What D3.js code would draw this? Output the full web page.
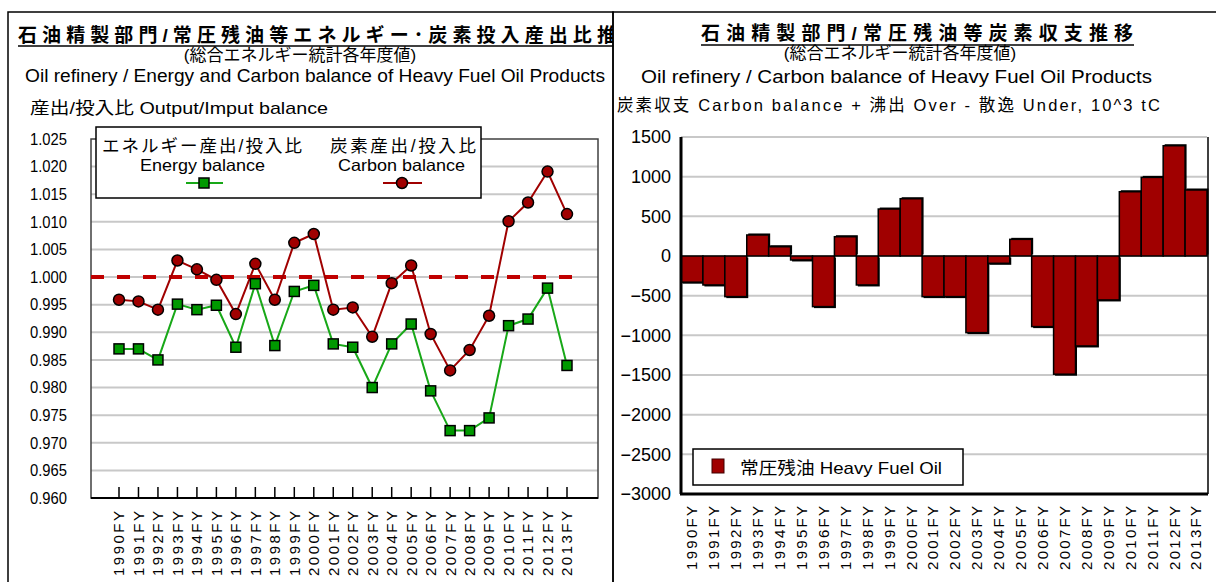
<!DOCTYPE html>
<html>
<head>
<meta charset="utf-8">
<script src="https://cdn.jsdelivr.net/npm/d3@7"></script>
<style>
  body { margin: 0; background: #fff; }
  svg text { font-family: "Liberation Sans", Arial, "Noto Sans CJK JP", sans-serif; fill: #000; }
</style>
</head>
<body>
<svg id="chart" width="1216" height="582"></svg>
<script>
// categories
var years = ["1990FY","1991FY","1992FY","1993FY","1994FY","1995FY","1996FY","1997FY",
  "1998FY","1999FY","2000FY","2001FY","2002FY","2003FY","2004FY","2005FY","2006FY",
  "2007FY","2008FY","2009FY","2010FY","2011FY","2012FY","2013FY"];

// left chart: output / input ratios
var energyBalance = [0.9870,0.9870,0.9850,0.9951,0.9941,0.9949,0.9873,0.9988,0.9876,0.9974,
  0.9985,0.9879,0.9873,0.9800,0.9879,0.9915,0.9794,0.9722,0.9722,0.9745,0.9912,0.9924,0.9980,0.9840];
var carbonBalance = [0.9959,0.9956,0.9941,1.0030,1.0014,0.9995,0.9933,1.0024,0.9959,1.0062,
  1.0078,0.9941,0.9945,0.9892,0.9989,1.0021,0.9897,0.9831,0.9868,0.9930,1.0101,1.0135,1.0191,1.0114];
var leftTicks = [0.960,0.965,0.970,0.975,0.980,0.985,0.990,0.995,1.000,1.005,1.010,1.015,1.020,1.025];

// right chart: carbon balance, 10^3 tC
var heavyFuelOil = [-330,-365,-512,265,117,-50,-638,243,-365,592,
  722,-512,-512,-966,-92,210,-890,-1490,-1134,-554,810,991,1390,832];
var rightTicks = [-3000,-2500,-2000,-1500,-1000,-500,0,500,1000,1500];

var svg = d3.select("#chart");

// panel frames
svg.append("defs").append("clipPath").attr("id", "leftClip")
  .append("rect").attr("x", 8).attr("y", 12).attr("width", 605).attr("height", 580);
svg.append("rect").attr("x", 8).attr("y", 12).attr("width", 605).attr("height", 600)
  .attr("fill", "none").attr("stroke", "#000").attr("stroke-width", 1.5);
svg.append("rect").attr("x", 613).attr("y", 12).attr("width", 620).attr("height", 600)
  .attr("fill", "none").attr("stroke", "#000").attr("stroke-width", 1.5);

// ---------------- left chart ----------------
var left = svg.append("g");
var lt = left.append("g").attr("clip-path", "url(#leftClip)");
lt.append("text").attr("x", 18).attr("y", 42)
  .attr("font-size", 19).attr("font-weight", "bold")
  .attr("textLength", 622).attr("lengthAdjust", "spacing")
  .text("石油精製部門/常圧残油等エネルギー･炭素投入産出比推移");
lt.append("line").attr("x1", 18).attr("x2", 613).attr("y1", 46).attr("y2", 46)
  .attr("stroke", "#000").attr("stroke-width", 1.5);
left.append("text").attr("x", 300).attr("y", 61).attr("text-anchor", "middle")
  .attr("font-size", 17).text("(総合エネルギー統計各年度値)");
left.append("text").attr("x", 25).attr("y", 82).attr("font-size", 17.5)
  .attr("textLength", 580).attr("lengthAdjust", "spacingAndGlyphs")
  .text("Oil refinery /  Energy and Carbon balance of Heavy Fuel Oil Products");
left.append("text").attr("x", 30).attr("y", 114).attr("font-size", 17)
  .attr("textLength", 298).attr("lengthAdjust", "spacingAndGlyphs")
  .text("産出/投入比 Output/Imput balance");

var lx = d3.scalePoint().domain(years).range([119, 567]);
var ly = d3.scaleLinear().domain([0.960, 1.025]).range([498, 139]);
var lPlot = { x0: 91, x1: 598 };

// gridlines
left.append("g").selectAll("line").data(leftTicks.slice(1, -1)).join("line")
  .attr("x1", lPlot.x0).attr("x2", lPlot.x1)
  .attr("y1", function(d) { return ly(d); }).attr("y2", function(d) { return ly(d); })
  .attr("stroke", "#c8c8c8").attr("stroke-width", 2);

left.append("rect").attr("x", lPlot.x0).attr("y", ly(1.025))
  .attr("width", lPlot.x1 - lPlot.x0).attr("height", ly(0.960) - ly(1.025))
  .attr("fill", "none").attr("stroke", "#404040").attr("stroke-width", 1.5);
left.append("line").attr("x1", lPlot.x0).attr("x2", lPlot.x1)
  .attr("y1", ly(0.960)).attr("y2", ly(0.960)).attr("stroke", "#000").attr("stroke-width", 2);

// y tick labels
left.append("g").selectAll("text").data(leftTicks).join("text")
  .attr("x", 67).attr("y", function(d) { return ly(d); }).attr("dy", "0.36em")
  .attr("text-anchor", "end").attr("font-size", 16)
  .attr("textLength", 37).attr("lengthAdjust", "spacingAndGlyphs")
  .text(function(d) { return d3.format(".3f")(d); });

// x ticks (inside) and labels
left.append("g").selectAll("line").data(years).join("line")
  .attr("x1", function(d) { return lx(d); }).attr("x2", function(d) { return lx(d); })
  .attr("y1", ly(0.960) - 11).attr("y2", ly(0.960))
  .attr("stroke", "#000").attr("stroke-width", 1.5);
left.append("g").selectAll("text").data(years).join("text")
  .attr("transform", function(d) { return "translate(" + lx(d) + ",511) rotate(-90)"; })
  .attr("dy", "0.36em").attr("text-anchor", "end").attr("font-size", 15)
  .attr("textLength", 65).attr("lengthAdjust", "spacing")
  .text(function(d) { return d; });

// 1.000 reference line
left.append("line").attr("x1", lPlot.x0).attr("x2", lx(years[years.length - 1]) + 12)
  .attr("y1", ly(1.000)).attr("y2", ly(1.000))
  .attr("stroke", "#c00000").attr("stroke-width", 4).attr("stroke-dasharray", "13,13");

var line = d3.line().x(function(d, i) { return lx(years[i]); }).y(function(d) { return ly(d); });
left.append("path").datum(energyBalance).attr("d", line)
  .attr("fill", "none").attr("stroke", "#18a818").attr("stroke-width", 2);
left.append("path").datum(carbonBalance).attr("d", line)
  .attr("fill", "none").attr("stroke", "#a00000").attr("stroke-width", 2);

left.append("g").selectAll("rect").data(energyBalance).join("rect")
  .attr("x", function(d, i) { return lx(years[i]) - 5; })
  .attr("y", function(d) { return ly(d) - 5; })
  .attr("width", 10).attr("height", 10)
  .attr("fill", "#009900").attr("stroke", "#000").attr("stroke-width", 1.5);
left.append("g").selectAll("circle").data(carbonBalance).join("circle")
  .attr("cx", function(d, i) { return lx(years[i]); })
  .attr("cy", function(d) { return ly(d); })
  .attr("r", 5.5)
  .attr("fill", "#a00000").attr("stroke", "#000").attr("stroke-width", 1.5);

// legend
var lg = left.append("g");
lg.append("rect").attr("x", 96).attr("y", 127).attr("width", 385).attr("height", 71)
  .attr("fill", "#fff").attr("stroke", "#000").attr("stroke-width", 1.5);
lg.append("text").attr("x", 102).attr("y", 152).attr("font-size", 17.5)
  .attr("textLength", 200).attr("lengthAdjust", "spacing").text("エネルギー産出/投入比");
lg.append("text").attr("x", 140).attr("y", 171).attr("font-size", 16.5)
  .attr("textLength", 125).attr("lengthAdjust", "spacingAndGlyphs").text("Energy balance");
lg.append("text").attr("x", 330).attr("y", 152).attr("font-size", 17.5)
  .attr("textLength", 146).attr("lengthAdjust", "spacing").text("炭素産出/投入比");
lg.append("text").attr("x", 338).attr("y", 171).attr("font-size", 16.5)
  .attr("textLength", 127).attr("lengthAdjust", "spacingAndGlyphs").text("Carbon balance");
lg.append("line").attr("x1", 186).attr("x2", 223).attr("y1", 183).attr("y2", 183)
  .attr("stroke", "#18a818").attr("stroke-width", 2);
lg.append("rect").attr("x", 199).attr("y", 178).attr("width", 10).attr("height", 10)
  .attr("fill", "#009900").attr("stroke", "#000").attr("stroke-width", 1.5);
lg.append("line").attr("x1", 383).attr("x2", 422).attr("y1", 183).attr("y2", 183)
  .attr("stroke", "#a00000").attr("stroke-width", 2);
lg.append("circle").attr("cx", 402).attr("cy", 183).attr("r", 5.5)
  .attr("fill", "#a00000").attr("stroke", "#000").attr("stroke-width", 1.5);

// ---------------- right chart ----------------
var right = svg.append("g");
right.append("text").attr("x", 701).attr("y", 40)
  .attr("font-size", 19).attr("font-weight", "bold")
  .attr("textLength", 432).attr("lengthAdjust", "spacing")
  .text("石油精製部門/常圧残油等炭素収支推移");
right.append("line").attr("x1", 701).attr("x2", 1134).attr("y1", 45).attr("y2", 45)
  .attr("stroke", "#000").attr("stroke-width", 1.5);
right.append("text").attr("x", 900).attr("y", 59).attr("text-anchor", "middle")
  .attr("font-size", 17).text("(総合エネルギー統計各年度値)");
right.append("text").attr("x", 641).attr("y", 83).attr("font-size", 17.5)
  .attr("textLength", 511).attr("lengthAdjust", "spacingAndGlyphs")
  .text("Oil refinery / Carbon balance of Heavy Fuel Oil Products");
right.append("text").attr("x", 617).attr("y", 111).attr("font-size", 16.5)
  .attr("textLength", 543).attr("lengthAdjust", "spacing")
  .text("炭素収支 Carbon balance  + 沸出 Over  - 散逸 Under, 10^3 tC");

var rx = d3.scaleBand().domain(years).range([681, 1207]).paddingInner(0);
var ry = d3.scaleLinear().domain([-3000, 1500]).range([494, 137]);

right.append("g").selectAll("line").data(rightTicks.slice(1)).join("line")
  .attr("x1", 681).attr("x2", 1207)
  .attr("y1", function(d) { return ry(d); }).attr("y2", function(d) { return ry(d); })
  .attr("stroke", "#c8c8c8").attr("stroke-width", 2);

right.append("g").selectAll("text").data(rightTicks).join("text")
  .attr("x", 671).attr("y", function(d) { return ry(d); }).attr("dy", "0.36em")
  .attr("text-anchor", "end").attr("font-size", 18)
  .text(function(d) { return d < 0 ? "\u2212" + Math.abs(d) : d; });

// bars (with a dark offset edge like the original's shadow)
right.append("g").selectAll("rect").data(heavyFuelOil).join("rect")
  .attr("x", function(d, i) { return rx(years[i]) + 1.5; })
  .attr("y", function(d) { return ry(Math.max(0, d)) - (d > 0 ? 1.5 : -1.5); })
  .attr("width", rx.bandwidth())
  .attr("height", function(d) { return Math.abs(ry(d) - ry(0)); })
  .attr("fill", "#000");
right.append("g").selectAll("rect").data(heavyFuelOil).join("rect")
  .attr("x", function(d, i) { return rx(years[i]); })
  .attr("y", function(d) { return ry(Math.max(0, d)); })
  .attr("width", rx.bandwidth())
  .attr("height", function(d) { return Math.abs(ry(d) - ry(0)); })
  .attr("fill", "#a00000").attr("stroke", "#000").attr("stroke-width", 1.5);

right.append("line").attr("x1", 681).attr("x2", 681).attr("y1", ry(1500)).attr("y2", ry(-3000))
  .attr("stroke", "#000").attr("stroke-width", 3);
right.append("line").attr("x1", 680).attr("x2", 1208).attr("y1", ry(-3000)).attr("y2", ry(-3000))
  .attr("stroke", "#000").attr("stroke-width", 3);
right.append("line").attr("x1", 1208).attr("x2", 1208).attr("y1", ry(1500)).attr("y2", ry(-3000))
  .attr("stroke", "#000").attr("stroke-width", 1.5);

right.append("g").selectAll("text").data(years).join("text")
  .attr("transform", function(d) { return "translate(" + (rx(d) + rx.bandwidth() / 2) + ",506) rotate(-90)"; })
  .attr("dy", "0.36em").attr("text-anchor", "end").attr("font-size", 15)
  .attr("textLength", 64).attr("lengthAdjust", "spacing")
  .text(function(d) { return d; });

// legend
var rg = right.append("g");
rg.append("rect").attr("x", 693).attr("y", 449).attr("width", 270).attr("height", 36)
  .attr("fill", "#fff").attr("stroke", "#000").attr("stroke-width", 1.5);
rg.append("rect").attr("x", 712).attr("y", 459).attr("width", 12).attr("height", 14)
  .attr("fill", "#a00000").attr("stroke", "#400000").attr("stroke-width", 1);
rg.append("text").attr("x", 740).attr("y", 474).attr("font-size", 17)
  .attr("textLength", 202).attr("lengthAdjust", "spacingAndGlyphs")
  .text("常圧残油 Heavy Fuel Oil");
</script>
</body>
</html>
